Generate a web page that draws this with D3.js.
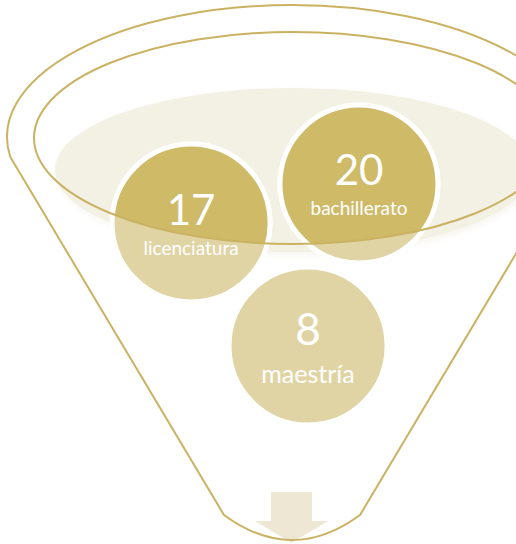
<!DOCTYPE html>
<html>
<head>
<meta charset="utf-8">
<script src="https://cdn.jsdelivr.net/npm/d3@7"></script>
<style>
  html, body { margin: 0; padding: 0; background: #fff; overflow: hidden; }
  svg { display: block; }
</style>
</head>
<body>
<div id="chart"></div>
<script>
const values = [20, 17, 8];
const labels = ['bachillerato', 'licenciatura', 'maestría'];

const width = 516, height = 544;
const gold = '#CBB262';
const dark = '#CFBA68';
const light = '#E0D4A4';
const beige = '#F3F0E4';

// funnel geometry
const cx = 292;
const outer = { cy: 137, rx: 285, ry: 132 };
const inner = { cx: 293, cy: 138, rx: 259, ry: 106 };
const pool = { cx: 293, cy: 170, rx: 238, ry: 82 };
const r = 79;

// circle slots (offsets from funnel centre / pool centre, in radii)
const slots = [
  { dx: 0.848, dy: 0.177, num: 42, lab: 19 },
  { dx: -1.278, dy: 0.671, num: 42, lab: 19 },
  { dx: 0.203, dy: 2.228, num: 44, lab: 25 }
];

const svg = d3.select('#chart').append('svg')
  .attr('width', width)
  .attr('height', height);

const defs = svg.append('defs');
defs.append('clipPath').attr('id', 'innerClip')
  .append('ellipse')
  .attr('cx', inner.cx).attr('cy', inner.cy)
  .attr('rx', inner.rx).attr('ry', inner.ry);
const blur = defs.append('filter').attr('id', 'soft')
  .attr('x', '-10%').attr('y', '-10%').attr('width', '120%').attr('height', '130%');
blur.append('feGaussianBlur').attr('stdDeviation', 3);

// pool shadow + pool
svg.append('ellipse')
  .attr('cx', pool.cx + 2).attr('cy', pool.cy + 3)
  .attr('rx', pool.rx).attr('ry', pool.ry)
  .style('fill', '#F1EEE3')
  .style('opacity', 0.6)
  .attr('filter', 'url(#soft)');
svg.append('ellipse')
  .attr('cx', pool.cx).attr('cy', pool.cy)
  .attr('rx', pool.rx).attr('ry', pool.ry)
  .style('fill', beige);

// arrow
const ay = 492, aw = 20.5, hw = 36.5, ah = 521, tip = 543;
const ax = 291.5;
svg.append('path')
  .attr('d', d3.line()([
    [ax - aw, ay], [ax + aw, ay], [ax + aw, ah], [ax + hw, ah],
    [ax, tip], [ax - hw, ah], [ax - aw, ah]
  ]) + 'Z')
  .style('fill', '#EEE7D4');

const nodes = values.map((v, i) => ({
  value: v,
  label: labels[i],
  x: cx + slots[i].dx * r,
  y: pool.cy + slots[i].dy * r,
  slot: slots[i]
}));

// circles (light base)
svg.selectAll('circle.base')
  .data(nodes)
  .enter()
  .append('circle')
  .attr('class', 'base')
  .attr('cx', d => d.x).attr('cy', d => d.y).attr('r', r)
  .style('fill', light)
  .style('stroke', '#fff')
  .style('stroke-width', 5);

// darker part inside the funnel mouth
svg.append('g').attr('clip-path', 'url(#innerClip)')
  .selectAll('circle')
  .data(nodes)
  .enter()
  .append('circle')
  .attr('cx', d => d.x).attr('cy', d => d.y).attr('r', r)
  .style('fill', dark)
  .style('stroke', '#fff')
  .style('stroke-width', 5);

// outer funnel outline
const cornerDy = 20;
const cornerDx = outer.rx * Math.sqrt(1 - (cornerDy / outer.ry) ** 2);
const lx = cx - cornerDx, rxp = cx + cornerDx, cyc = outer.cy + cornerDy;
const botY = 515, botHalf = 68, botDip = 565;
const funnel = d3.path();
funnel.moveTo(lx, cyc);
funnel.lineTo(cx - botHalf, botY);
funnel.quadraticCurveTo(cx, botDip, cx + botHalf, botY);
funnel.lineTo(rxp, cyc);
svg.append('path')
  .attr('d', funnel.toString() +
    `A${outer.rx},${outer.ry} 0 1 0 ${lx},${cyc}`)
  .style('fill', 'none')
  .style('stroke', gold)
  .style('stroke-width', 2);

svg.append('ellipse')
  .attr('cx', inner.cx).attr('cy', inner.cy)
  .attr('rx', inner.rx).attr('ry', inner.ry)
  .style('fill', 'none')
  .style('stroke', gold)
  .style('stroke-width', 2);

// labels
const font = 'Lato, "Open Sans", sans-serif';
const g = svg.selectAll('g.node')
  .data(nodes)
  .enter()
  .append('g')
  .attr('class', 'node')
  .attr('transform', d => `translate(${d.x},${d.y})`);

g.append('text')
  .attr('text-anchor', 'middle')
  .attr('y', d => d.slot.lab > 20 ? -1 : 1.5)
  .style('font-family', font)
  .style('font-size', d => d.slot.num + 'px')
  .style('fill', '#fff')
  .text(d => d.value);

g.append('text')
  .attr('text-anchor', 'middle')
  .attr('y', d => d.slot.lab > 20 ? 37 : 31.5)
  .style('font-family', font)
  .style('font-size', d => d.slot.lab + 'px')
  .style('fill', '#fff')
  .text(d => d.label);
</script>
</body>
</html>
